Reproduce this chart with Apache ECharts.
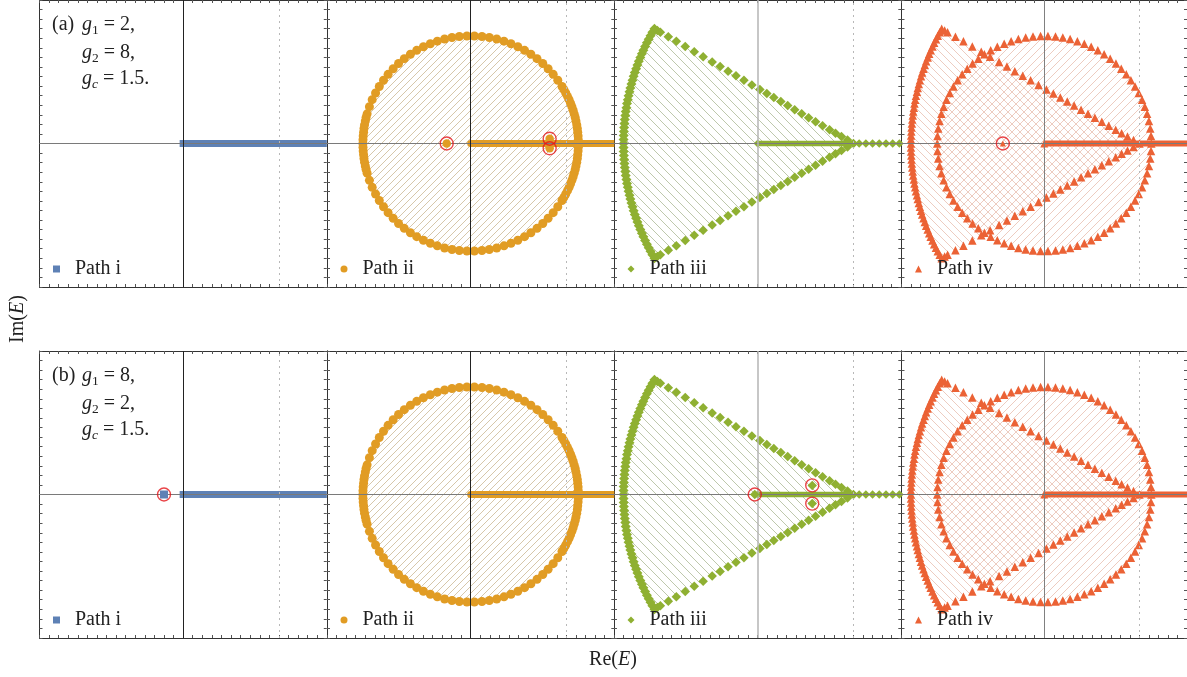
<!DOCTYPE html>
<html>
<head>
<meta charset="utf-8">
<title>Complex spectra, paths i-iv</title>
<script src="https://cdn.jsdelivr.net/npm/echarts/dist/echarts.min.js"></script>
<style>
  html, body { margin: 0; padding: 0; background: #fff; overflow: hidden; }
  #main { width: 1187px; height: 677px; }
</style>
</head>
<body>
<div id="main"></div>
<script>
// ---- data (Re, Im) ----
var pathNames = ['Path i', 'Path ii', 'Path iii', 'Path iv'];
var rowTags = ['(a)', '(b)'];
var g1Vals = ['2', '8'];
var g2Vals = ['8', '2'];
var gcVals = ['1.5', '1.5'];
var axisRange = [-15, 15];
var dottedRe = 10;

// ring of points (paths ii and iv)
var circlePts = [
  [11.25,0],[11.22,0.78],[11.14,1.57],[11.00,2.34],[10.81,3.10],[10.57,3.85],[10.28,4.58],[9.93,5.28],
  [9.54,5.96],[9.10,6.61],[8.62,7.23],[8.09,7.81],[7.53,8.36],[6.93,8.87],[6.29,9.33],[5.63,9.74],
  [4.93,10.11],[4.21,10.43],[3.48,10.70],[2.72,10.92],[1.95,11.08],[1.18,11.19],[0.39,11.24],
  [-0.39,11.24],[-1.18,11.19],[-1.95,11.08],[-2.72,10.92],[-3.48,10.70],[-4.21,10.43],[-4.93,10.11],
  [-5.63,9.74],[-6.29,9.33],[-6.93,8.87],[-7.53,8.36],[-8.09,7.81],[-8.62,7.23],[-9.10,6.61],[-9.54,5.96],
  [-9.93,5.28],[-10.28,4.58],[-10.57,3.85],[-10.81,3.10],[-11.00,2.34],[-11.14,1.57],[-11.22,0.78],
  [-11.25,0],
  [-11.22,-0.78],[-11.14,-1.57],[-11.00,-2.34],[-10.81,-3.10],[-10.57,-3.85],[-10.28,-4.58],[-9.93,-5.28],
  [-9.54,-5.96],[-9.10,-6.61],[-8.62,-7.23],[-8.09,-7.81],[-7.53,-8.36],[-6.93,-8.87],[-6.29,-9.33],
  [-5.63,-9.74],[-4.93,-10.11],[-4.21,-10.43],[-3.48,-10.70],[-2.72,-10.92],[-1.95,-11.08],[-1.18,-11.19],
  [-0.39,-11.24],
  [0.39,-11.24],[1.18,-11.19],[1.95,-11.08],[2.72,-10.92],[3.48,-10.70],[4.21,-10.43],[4.93,-10.11],
  [5.63,-9.74],[6.29,-9.33],[6.93,-8.87],[7.53,-8.36],[8.09,-7.81],[8.62,-7.23],[9.10,-6.61],[9.54,-5.96],
  [9.93,-5.28],[10.28,-4.58],[10.57,-3.85],[10.81,-3.10],[11.00,-2.34],[11.14,-1.57],[11.22,-0.78]
];
// extra points where the ring is densest (right side)
var circleDense = [
  [11.24,0.39],[11.18,1.18],[11.08,1.95],[10.92,2.72],[10.70,3.48],[10.43,4.21],[10.11,4.93],[9.74,5.63],
  [11.24,-0.39],[11.18,-1.18],[11.08,-1.95],[10.92,-2.72],[10.70,-3.48],[10.43,-4.21],[10.11,-4.93],[9.74,-5.63],
  [-11.24,0.39],[-11.18,1.18],[-11.08,1.95],[-10.92,2.72],
  [-11.24,-0.39],[-11.18,-1.18],[-11.08,-1.95],[-10.92,-2.72]
];

// wedge: left arc (paths iii and iv), top corner to bottom corner
var wedgeArc = [
  [-10.78,12.00],[-10.99,11.64],[-11.19,11.27],[-11.38,10.90],[-11.57,10.52],[-11.75,10.14],[-11.93,9.76],
  [-12.09,9.38],[-12.25,8.99],[-12.41,8.60],[-12.55,8.21],[-12.69,7.81],[-12.83,7.42],[-12.95,7.02],
  [-13.07,6.62],[-13.18,6.21],[-13.29,5.81],[-13.38,5.40],[-13.48,4.99],[-13.56,4.58],[-13.64,4.17],
  [-13.70,3.75],[-13.77,3.34],[-13.82,2.92],[-13.87,2.51],[-13.91,2.09],[-13.94,1.67],[-13.97,1.26],
  [-13.99,0.84],[-14.00,0.42],[-14.00,0],
  [-14.00,-0.42],[-13.99,-0.84],[-13.97,-1.26],[-13.94,-1.67],[-13.91,-2.09],[-13.87,-2.51],[-13.82,-2.92],
  [-13.77,-3.34],[-13.70,-3.75],[-13.64,-4.17],[-13.56,-4.58],[-13.48,-4.99],[-13.38,-5.40],[-13.29,-5.81],
  [-13.18,-6.21],[-13.07,-6.62],[-12.95,-7.02],[-12.83,-7.42],[-12.69,-7.81],[-12.55,-8.21],[-12.41,-8.60],
  [-12.25,-8.99],[-12.09,-9.38],[-11.93,-9.76],[-11.75,-10.14],[-11.57,-10.52],[-11.38,-10.90],[-11.19,-11.27],
  [-10.99,-11.64],[-10.78,-12.00]
];
var wedgeTip = [10, 0];
// straight wedge edges, sparse points
var wedgeEdgeTop = [
  [-10.47,11.82],[-10.16,11.64],[-9.33,11.16],[-8.49,10.68],[-7.56,10.14],[-6.62,9.60],[-5.69,9.06],
  [-4.75,8.52],[-3.92,8.04],[-3.09,7.56],[-2.26,7.08],[-1.43,6.60],[-0.60,6.12],[0.23,5.64],[0.96,5.22],
  [1.69,4.80],[2.42,4.38],[3.14,3.96],[3.87,3.54],[4.60,3.12],[5.32,2.70],[6.05,2.28],[6.78,1.86],
  [7.51,1.44],[8.13,1.08],[8.75,0.72],[9.38,0.36],[10,0]
];
var wedgeEdgeBottom = [
  [-10.47,-11.82],[-10.16,-11.64],[-9.33,-11.16],[-8.49,-10.68],[-7.56,-10.14],[-6.62,-9.60],[-5.69,-9.06],
  [-4.75,-8.52],[-3.92,-8.04],[-3.09,-7.56],[-2.26,-7.08],[-1.43,-6.60],[-0.60,-6.12],[0.23,-5.64],[0.96,-5.22],
  [1.69,-4.80],[2.42,-4.38],[3.14,-3.96],[3.87,-3.54],[4.60,-3.12],[5.32,-2.70],[6.05,-2.28],[6.78,-1.86],
  [7.51,-1.44],[8.13,-1.08],[8.75,-0.72],[9.38,-0.36]
];
// dense runs on the real axis
var realSegLong = [[0,0],[15,0]];
var realSegShort = [[0,0],[10,0]];
var tailPts = [[10.6,0],[11.3,0],[12.0,0],[12.7,0],[13.4,0],[14.1,0],[14.8,0]];

// circled points
var markedA2 = [[-2.5,0],[8.25,0.5],[8.25,-0.5]];
var markedA4 = [[-4.35,0]];
var markedB1 = [[-2,0]];
var markedB3 = [[-0.3,0],[5.7,0.95],[5.7,-0.95]];

// ---- layout / style ----
var colors = ['#5e81b5', '#e19c24', '#8fb032', '#eb6235'];
var symbols = ['rect', 'circle', 'diamond', 'triangle'];
var vLineColors = ['#222', '#222', '#b5b5b5', '#808080'];
var colLeft = [39.5, 327, 614, 901.5];
var rowTop = [0, 351];
var panelW = 287.3, panelH = 287;
var serif = 'Liberation Serif';

function hatch(dir, step, color) {
  var c = document.createElement('canvas');
  c.width = step; c.height = step;
  var g = c.getContext('2d');
  g.strokeStyle = color;
  g.lineWidth = 0.9;
  g.beginPath();
  for (var o = -1; o <= 1; o++) {
    if (dir === '/') { g.moveTo(-2 + o * step, step + 2); g.lineTo(step + 2 + o * step, -2); }
    else { g.moveTo(-2 + o * step, -2); g.lineTo(step + 2 + o * step, step + 2); }
  }
  g.stroke();
  return { image: c, repeat: 'repeat' };
}

var hatchII = hatch('/', 7, 'rgba(190,165,120,0.7)');
var hatchIII = hatch('\\', 9, 'rgba(165,178,140,0.8)');
var hatchIVa = hatch('/', 8, 'rgba(222,160,138,0.6)');
var hatchIVb = hatch('\\', 8, 'rgba(222,160,138,0.6)');

var option = {
  animation: false,
  backgroundColor: '#fff',
  grid: [], xAxis: [], yAxis: [], legend: [], graphic: [], series: []
};

function frameAxis(k, pos) {
  return {
    gridIndex: k, type: 'value', min: axisRange[0], max: axisRange[1], interval: 1,
    position: pos,
    axisLine: { onZero: false, lineStyle: { color: '#333', width: 1 } },
    axisTick: { inside: true, length: 3, lineStyle: { color: '#555', width: 1 } },
    axisLabel: { show: false }, splitLine: { show: false }
  };
}

function hatchSeries(k, poly, pattern) {
  return {
    type: 'custom', xAxisIndex: 2 * k, yAxisIndex: 2 * k, z: 1, silent: true,
    data: [[0, 0]],
    renderItem: function (params, api) {
      var pts = poly.map(function (p) { return api.coord(p); });
      return { type: 'polygon', shape: { points: pts }, style: { fill: pattern, stroke: null } };
    }
  };
}

function dots(k, col, data, size, z, name) {
  return {
    type: 'scatter', name: name, xAxisIndex: 2 * k, yAxisIndex: 2 * k, data: data,
    symbol: symbols[col], symbolSize: size, silent: true, z: z || 2,
    itemStyle: { color: colors[col], opacity: 1 }
  };
}

// dense run along the real axis: thick line, marker only at its start (or both ends)
function run(k, col, seg, width, startSize, bothEnds, name) {
  var data = seg.map(function (p, i) {
    var on = i === 0 || bothEnds;
    return { value: p, symbol: on ? symbols[col] : 'none', symbolSize: on ? startSize : 0 };
  });
  return {
    type: 'line', name: name, xAxisIndex: 2 * k, yAxisIndex: 2 * k, data: data,
    lineStyle: { color: colors[col], width: width, cap: 'butt' },
    itemStyle: { color: colors[col] },
    showSymbol: true, silent: true, z: 3
  };
}

function circled(k, data) {
  return {
    type: 'scatter', xAxisIndex: 2 * k, yAxisIndex: 2 * k, data: data,
    symbol: 'circle', symbolSize: 13, silent: true, z: 6,
    itemStyle: { color: 'rgba(0,0,0,0)', borderColor: '#e3161c', borderWidth: 1.4 }
  };
}

function refLines(k, col) {
  return [{
    type: 'line', xAxisIndex: 2 * k, yAxisIndex: 2 * k, data: [], z: 1, silent: true,
    markLine: {
      silent: true, symbol: ['none', 'none'], label: { show: false },
      data: [{ xAxis: dottedRe, lineStyle: { color: '#b8b8b8', width: 1, type: [2, 4] } }]
    }
  }, {
    type: 'line', xAxisIndex: 2 * k, yAxisIndex: 2 * k, data: [], z: 4, silent: true,
    markLine: {
      silent: true, symbol: ['none', 'none'], label: { show: false },
      data: [
        { yAxis: 0, lineStyle: { color: '#7a7a7a', width: 1, type: 'solid' } },
        { xAxis: 0, lineStyle: { color: vLineColors[col], width: col === 2 ? 1.5 : 1, type: 'solid' } }
      ]
    }
  }];
}

for (var r = 0; r < 2; r++) {
  for (var c = 0; c < 4; c++) {
    var k = r * 4 + c;
    option.grid.push({ left: colLeft[c], top: rowTop[r], width: panelW, height: panelH });
    option.xAxis.push(frameAxis(k, 'bottom'), frameAxis(k, 'top'));
    option.yAxis.push(frameAxis(k, 'left'), frameAxis(k, 'right'));
    var s = option.series;
    s.push.apply(s, refLines(k, c));

    if (c === 0) {
      s.push(run(k, 0, realSegLong, 7, 7, false, pathNames[0]));
      if (r === 1) { s.push(dots(k, 0, markedB1, 8, 5)); s.push(circled(k, markedB1)); }
    } else if (c === 1) {
      s.push(hatchSeries(k, circlePts, hatchII));
      s.push(dots(k, 1, circlePts, 9, 2, pathNames[1]));
      s.push(dots(k, 1, circleDense, 9, 2));
      s.push(run(k, 1, realSegLong, 7, 7, false));
      if (r === 0) { s.push(dots(k, 1, markedA2, 8.5, 5)); s.push(circled(k, markedA2)); }
    } else if (c === 2) {
      s.push(hatchSeries(k, wedgeArc.concat([wedgeTip]), hatchIII));
      s.push(dots(k, 2, wedgeArc, 10, 2, pathNames[2]));
      s.push(dots(k, 2, wedgeEdgeTop, 9.5, 2));
      s.push(dots(k, 2, wedgeEdgeBottom, 9.5, 2));
      s.push(dots(k, 2, tailPts, 8.5, 2));
      s.push(run(k, 2, realSegShort, 5.5, 8, true));
      if (r === 1) { s.push(dots(k, 2, markedB3, 9.5, 5)); s.push(circled(k, markedB3)); }
    } else {
      s.push(hatchSeries(k, circlePts, hatchIVa));
      s.push(hatchSeries(k, wedgeArc.concat([wedgeTip]), hatchIVb));
      s.push(dots(k, 3, circlePts, 8.5, 2, pathNames[3]));
      s.push(dots(k, 3, wedgeArc, 8.5, 2));
      s.push(dots(k, 3, wedgeEdgeTop, 8.5, 2));
      s.push(dots(k, 3, wedgeEdgeBottom, 8.5, 2));
      s.push(run(k, 3, realSegLong, 6, 8, false));
      if (r === 0) { s.push(dots(k, 3, markedA4, 6, 5)); s.push(circled(k, markedA4)); }
    }

    option.legend.push({
      left: colLeft[c] + 13.5, top: rowTop[r] + 259, padding: 0, itemGap: 0,
      itemWidth: 7, itemHeight: 7, selectedMode: false,
      data: [{ name: pathNames[c], icon: symbols[c] }],
      textStyle: { fontFamily: serif, fontSize: 20, color: '#222', padding: [0, 0, 0, 10] }
    });
  }

  // parameter block in panel i
  var rich = {
    i: { fontStyle: 'italic', fontFamily: serif, fontSize: 20, lineHeight: 24, fill: '#222' },
    s: { fontFamily: serif, fontSize: 13.5, lineHeight: 14, verticalAlign: 'bottom', fill: '#222' },
    si: { fontFamily: serif, fontStyle: 'italic', fontSize: 13.5, lineHeight: 14, verticalAlign: 'bottom', fill: '#222' }
  };
  var base = { fontFamily: serif, fontSize: 20, lineHeight: 24, fill: '#222', rich: rich };
  var eq = ' = ';
  var lines = [
    { x: 52, y: 13, text: rowTags[r] },
    { x: 82, y: 13, text: '{i|g}{s|1}' + eq + g1Vals[r] + ',' },
    { x: 82, y: 41, text: '{i|g}{s|2}' + eq + g2Vals[r] + ',' },
    { x: 82, y: 67, text: '{i|g}{si|c}' + eq + gcVals[r] + '.' }
  ];
  lines.forEach(function (l) {
    option.graphic.push({
      type: 'text', x: l.x, y: rowTop[r] + l.y, silent: true, z: 10,
      style: Object.assign({ text: l.text }, base)
    });
  });
}

var axRich = { i: { fontStyle: 'italic', fontFamily: serif, fontSize: 20, fill: '#222' } };
option.graphic.push({
  type: 'text', x: 613, y: 660, silent: true,
  style: { text: 'Re({i|E})', fontFamily: serif, fontSize: 20, fill: '#222', align: 'center', verticalAlign: 'middle', rich: axRich }
});
option.graphic.push({
  type: 'text', x: 18, y: 319, rotation: Math.PI / 2, silent: true,
  style: { text: 'Im({i|E})', fontFamily: serif, fontSize: 20, fill: '#222', align: 'center', verticalAlign: 'middle', rich: axRich }
});

var chart = echarts.init(document.getElementById('main'), null, { renderer: 'canvas' });
chart.setOption(option);
</script>
</body>
</html>
